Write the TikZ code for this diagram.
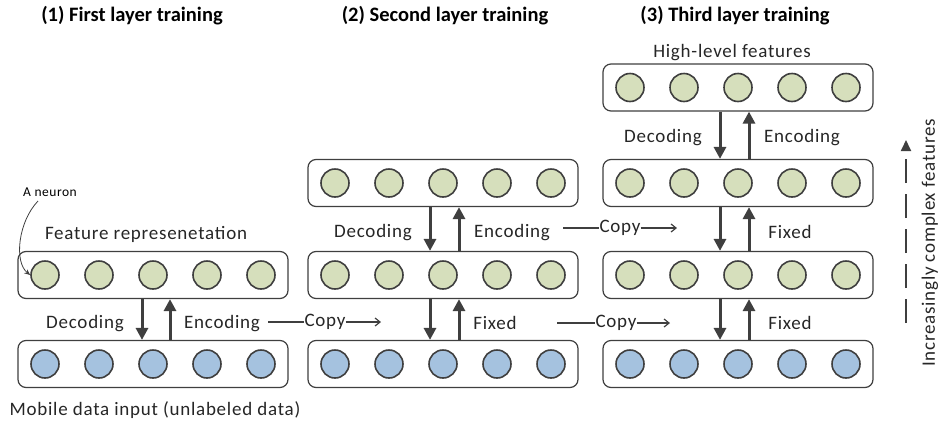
\documentclass[tikz,border=0pt]{standalone}
\usepackage{fontspec}
\setmainfont{Carlito}
\newfontfamily\lblfont{Carlito}[LetterSpace=4]
\usetikzlibrary{arrows.meta}
\definecolor{gfill}{HTML}{D6DFBC}
\definecolor{bfill}{HTML}{A5C2DF}
\definecolor{dk}{HTML}{3F3F3F}
\newcommand\mylayer[4]{%
  \node[layerbox] (#1) at (#2,#3) {};
  \foreach \k/\dx in {1/-108,2/-54,3/0,4/54,5/108}{
    \node[#4] (#1-\k) at (#2+\dx,#3) {};
  }%
}
\begin{document}
\begin{tikzpicture}[x=1pt,y=-1pt,
 layerbox/.style={draw=dk, line width=1.2pt, rounded corners=8pt, minimum width=270pt, minimum height=47pt, inner sep=0},
 neuron/.style={circle, draw=dk, line width=1.6pt, minimum size=28pt, inner sep=0},
 gn/.style={neuron, fill=gfill}, bn/.style={neuron, fill=bfill},
 arr/.style={draw=dk, line width=3pt, -{Triangle[length=12pt,width=12pt]}},
 lbl/.style={font=\lblfont\fontsize{19}{22}\selectfont, text=black!85, inner sep=1pt},
 ttl/.style={font=\fontsize{20.5}{24}\selectfont\bfseries, inner sep=1pt},
 cp/.style={draw=dk, line width=1.2pt},
 cpa/.style={cp, -{Straight Barb[length=5pt,width=8pt]}}
]
\useasboundingbox (0,0) rectangle (938,421);
% titles
\node[ttl] (t1) at (132,16) {(1) First layer training};
\node[ttl] (t2) at (445,16) {(2) Second layer training};
\node[ttl] (t3) at (735,16) {(3) Third layer training};
% column 1
\mylayer{aC}{153}{275}{gn}
\mylayer{aD}{153}{364}{bn}
% column 2
\mylayer{bB}{443}{183}{gn}
\mylayer{bC}{443}{275}{gn}
\mylayer{bD}{443}{364}{bn}
% column 3
\mylayer{cA}{738}{87.5}{gn}
\mylayer{cB}{738}{183}{gn}
\mylayer{cC}{738}{275}{gn}
\mylayer{cD}{738}{364}{bn}
% arrows column 1
\draw[arr] ([xshift=-11pt]aC.south) -- ([xshift=-11pt]aD.north);
\draw[arr] ([xshift=17pt]aD.north) -- ([xshift=17pt]aC.south);
% arrows column 2
\draw[arr] ([xshift=-13pt]bB.south) -- ([xshift=-13pt]bC.north);
\draw[arr] ([xshift=16pt]bC.north) -- ([xshift=16pt]bB.south);
\draw[arr] ([xshift=-13pt]bC.south) -- ([xshift=-13pt]bD.north);
\draw[arr] ([xshift=16pt]bD.north) -- ([xshift=16pt]bC.south);
% arrows column 3
\draw[arr] ([xshift=-18pt]cA.south) -- ([xshift=-18pt]cB.north);
\draw[arr] ([xshift=11pt]cB.north) -- ([xshift=11pt]cA.south);
\draw[arr] ([xshift=-18pt]cB.south) -- ([xshift=-18pt]cC.north);
\draw[arr] ([xshift=11pt]cC.north) -- ([xshift=11pt]cB.south);
\draw[arr] ([xshift=-18pt]cC.south) -- ([xshift=-18pt]cD.north);
\draw[arr] ([xshift=11pt]cD.north) -- ([xshift=11pt]cC.south);
% labels
\node[lbl] (fr) at (146,234) {Feature represenetation};
\node[lbl] (mdi) at (155,410) {Mobile data input (unlabeled data)};
\node[lbl] (hlf) at (732,53) {High-level features};
\node[lbl] (dec1) at (85,324) {Decoding};
\node[lbl] (enc1) at (222,324) {Encoding};
\node[lbl] (dec2) at (373,233) {Decoding};
\node[lbl] (enc2) at (512,233) {Encoding};
\node[lbl] (fix2) at (495,323) {Fixed};
\node[lbl] (dec3) at (663,138) {Decoding};
\node[lbl] (enc3) at (802,138) {Encoding};
\node[lbl] (fix3a) at (790,232) {Fixed};
\node[lbl] (fix3b) at (790,323) {Fixed};
% copy arrows
\node[lbl, inner sep=0pt] (cp1) at (325,322) {Copy};
\coordinate (cp1s) at (268,322);
\coordinate (cp1e) at (381,322);
\draw[cp] (cp1s) -- (cp1.west);
\draw[cpa] (cp1.east) -- (cp1e);
\node[lbl, inner sep=0pt] (cp2) at (620,228) {Copy};
\coordinate (cp2s) at (563,228);
\coordinate (cp2e) at (677,228);
\draw[cp] (cp2s) -- (cp2.west);
\draw[cpa] (cp2.east) -- (cp2e);
\node[lbl, inner sep=0pt] (cp3) at (616,323) {Copy};
\coordinate (cp3s) at (557,323);
\coordinate (cp3e) at (670,323);
\draw[cp] (cp3s) -- (cp3.west);
\draw[cpa] (cp3.east) -- (cp3e);
% a neuron
\node[font=\lblfont\fontsize{13.5}{16}\selectfont, inner sep=1pt] (an) at (50,192) {A neuron};
\draw[dk, line width=0.8pt, -{Stealth[length=6pt,width=5pt]}] (38,201) .. controls (18,222) and (14,262) .. (aC-1.west);
% increasing complexity
\coordinate (ics) at (906,323);
\coordinate (ice) at (906,140);
\draw[dk, line width=1.8pt, dash pattern=on 24pt off 11pt, -{Triangle[length=11pt,width=10pt]}] (ics) -- (ice);
\node[lbl, rotate=90] (ict) at (930,243) {Increasingly complex features};
\end{tikzpicture}
\end{document}
